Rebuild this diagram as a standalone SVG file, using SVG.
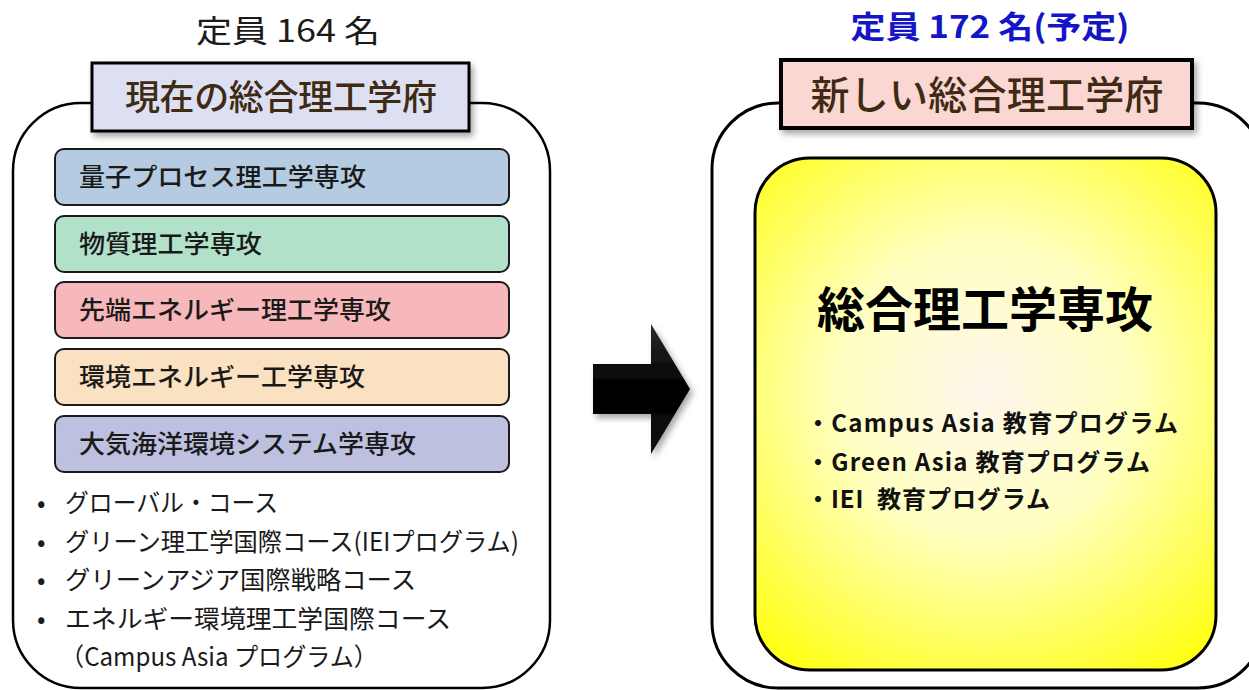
<svg xmlns="http://www.w3.org/2000/svg" width="1249" height="690" viewBox="0 0 1249 690">
<style>
.jp{font-family:"Noto Sans CJK JP","Noto Sans",sans-serif;}
.dept{font-size:25px;fill:#1a1a1a;font-weight:500;}
.bl{font-size:25px;fill:#1a1a1a;}
.outer{fill:#fff;stroke:#000;stroke-width:2.5;}
.db{stroke:#1a1a1a;stroke-width:2;}
.rb{font-size:24px;font-weight:bold;fill:#111;}
</style>
<defs>
<filter id="sh" x="-10%" y="-10%" width="130%" height="140%">
<feDropShadow dx="3" dy="4" stdDeviation="3" flood-color="#000" flood-opacity="0.35"/>
</filter>
<radialGradient id="yg" cx="985" cy="390" r="330" gradientUnits="userSpaceOnUse">
<stop offset="0" stop-color="#fff6ec"/>
<stop offset="0.45" stop-color="#ffffc0"/>
<stop offset="1" stop-color="#ffff1a"/>
</radialGradient>
<linearGradient id="ag" x1="0" y1="0" x2="0" y2="1">
<stop offset="0" stop-color="#2a2a2a"/>
<stop offset="0.5" stop-color="#000"/>
<stop offset="1" stop-color="#111"/>
</linearGradient>
</defs>

<g id="left-group">
<text class="jp" x="288" y="42" font-size="31" fill="#1a1a1a" text-anchor="middle" textLength="184" lengthAdjust="spacingAndGlyphs">定員 164 名</text>
<rect class="outer" x="13" y="103" width="537" height="585" rx="68"/>
<g id="left-title">
<rect x="92" y="63" width="377" height="68" fill="#dde0f2" stroke="#000" stroke-width="3" filter="url(#sh)"/>
<text class="jp" x="281" y="110" font-size="35" fill="#3f2a14" font-weight="500" text-anchor="middle" textLength="312">現在の総合理工学府</text>
</g>
<g id="dept1"><rect class="db" x="55" y="149" width="454" height="56" rx="9" fill="#b5cbe1"/><text class="jp dept" x="79" y="186" textLength="287" lengthAdjust="spacingAndGlyphs">量子プロセス理工学専攻</text></g>
<g id="dept2"><rect class="db" x="55" y="216" width="454" height="56" rx="9" fill="#b2e1ca"/><text class="jp dept" x="79" y="253" textLength="183" lengthAdjust="spacingAndGlyphs">物質理工学専攻</text></g>
<g id="dept3"><rect class="db" x="55" y="282" width="454" height="56" rx="9" fill="#f7b8bc"/><text class="jp dept" x="79" y="319" textLength="312" lengthAdjust="spacingAndGlyphs">先端エネルギー理工学専攻</text></g>
<g id="dept4"><rect class="db" x="55" y="349" width="454" height="56" rx="9" fill="#fae1c1"/><text class="jp dept" x="79" y="386" textLength="286" lengthAdjust="spacingAndGlyphs">環境エネルギー工学専攻</text></g>
<g id="dept5"><rect class="db" x="55" y="416" width="454" height="56" rx="9" fill="#bdc0de"/><text class="jp dept" x="79" y="453" textLength="337" lengthAdjust="spacingAndGlyphs">大気海洋環境システム学専攻</text></g>
<g id="left-bullets">
<text class="jp bl" x="37" y="512">•</text><text class="jp bl" x="65" y="512" textLength="213" lengthAdjust="spacingAndGlyphs">グローバル・コース</text>
<text class="jp bl" x="37" y="551">•</text><text class="jp bl" x="65" y="551" textLength="454" lengthAdjust="spacingAndGlyphs">グリーン理工学国際コース(IEIプログラム)</text>
<text class="jp bl" x="37" y="589">•</text><text class="jp bl" x="65" y="589" textLength="351" lengthAdjust="spacingAndGlyphs">グリーンアジア国際戦略コース</text>
<text class="jp bl" x="37" y="628">•</text><text class="jp bl" x="65" y="628" textLength="386" lengthAdjust="spacingAndGlyphs">エネルギー環境理工学国際コース</text>
<text class="jp bl" x="60" y="666" textLength="318" lengthAdjust="spacingAndGlyphs">（Campus Asia プログラム）</text>
</g>
</g>

<g id="connectors">
<polygon points="593,364 651,364 651,324 690,389 651,454 651,414 593,414" fill="url(#ag)" filter="url(#sh)"/>
</g>

<g id="right-group">
<text class="jp" x="990" y="38" font-size="31" font-weight="bold" fill="#1515c8" text-anchor="middle" textLength="279" lengthAdjust="spacingAndGlyphs">定員 172 名(予定)</text>
<rect x="712" y="103" width="552" height="585" rx="66" fill="#fff" stroke="#000" stroke-width="3"/>
<g id="right-title">
<rect x="781" y="60" width="411" height="68" fill="#fad7d2" stroke="#000" stroke-width="4" filter="url(#sh)"/>
<text class="jp" x="987" y="109" font-size="39" fill="#3f2a14" font-weight="500" text-anchor="middle" textLength="353">新しい総合理工学府</text>
</g>
<g id="new-major">
<rect x="755" y="158" width="461" height="512" rx="55" fill="url(#yg)" stroke="#000" stroke-width="3"/>
<text class="jp" x="985" y="327" font-size="48" font-weight="bold" fill="#000" text-anchor="middle" textLength="336">総合理工学専攻</text>
<text class="jp rb" x="806" y="432" textLength="372">・Campus Asia 教育プログラム</text>
<text class="jp rb" x="806" y="471" textLength="344">・Green Asia 教育プログラム</text>
<text class="jp rb" x="806" y="508" textLength="244">・IEI&#160;&#160;教育プログラム</text>
</g>
</g>
</svg>
